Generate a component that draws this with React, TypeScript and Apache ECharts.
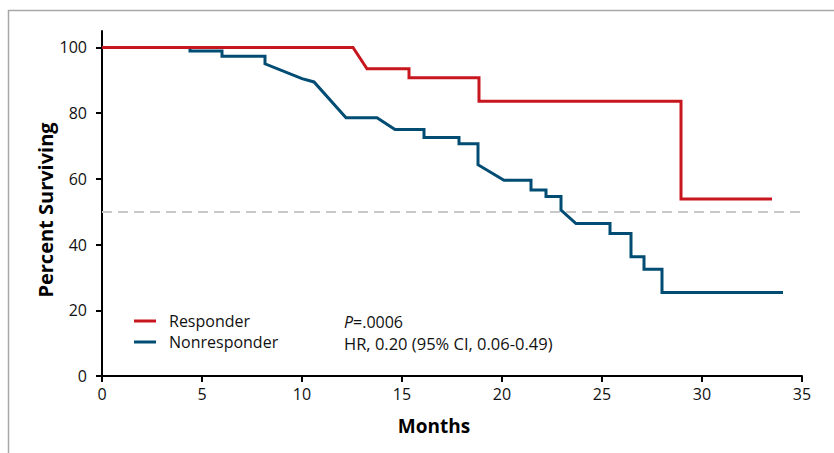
import React, { useEffect, useRef } from "react";
import * as echarts from "echarts";

const responderMonths = [0, 12.55, 13.25, 15.35, 15.35, 18.85, 18.85, 28.95, 28.95, 33.5];
const responderPct = [100, 100, 93.5, 93.5, 90.8, 90.8, 83.6, 83.6, 53.9, 53.9];

const nonresponderMonths = [
  0, 4.4, 4.4, 6.0, 6.0, 8.15, 8.15, 10.0, 10.6, 12.2, 13.75, 14.65, 16.1, 16.1, 17.85, 17.85,
  18.8, 18.8, 20.1, 21.45, 21.45, 22.2, 22.2, 22.95, 22.95, 23.7, 25.4, 25.4, 26.45, 26.45,
  27.1, 27.1, 28.0, 28.0, 34.05,
];
const nonresponderPct = [
  100, 100, 98.9, 98.9, 97.3, 97.3, 95.0, 90.5, 89.5, 78.6, 78.6, 75.0, 75.0, 72.6, 72.6, 70.7,
  70.7, 64.3, 59.6, 59.6, 56.6, 56.6, 54.6, 54.6, 50.5, 46.4, 46.4, 43.4, 43.4, 36.3, 36.3,
  32.5, 32.5, 25.4, 25.4,
];

const seriesNames = ["Responder", "Nonresponder"];
const yTicks = [0, 20, 40, 60, 80, 100];
const medianLine = 50;
const pText = "=.0006";
const hrText = "HR, 0.20 (95% CI, 0.06-0.49)";

const RED = "#c8161e";
const BLUE = "#004c73";
const FONT = "Open Sans";

export default function App() {
  const ref = useRef<HTMLDivElement>(null);
  useEffect(() => {
    document.body.style.margin = "0";
    const chart = echarts.init(ref.current!, null, { renderer: "svg" });
    const resp = responderMonths.map((m, i) => [m, responderPct[i]]);
    const nonr = nonresponderMonths.map((m, i) => [m, nonresponderPct[i]]);
    chart.setOption({
      animation: false,
      backgroundColor: "#ffffff",
      grid: { left: 102, right: 32, top: 31, bottom: 77, containLabel: false },
      xAxis: {
        type: "value",
        min: 0,
        max: 35,
        interval: 5,
        splitLine: { show: false },
        axisLine: { show: true, lineStyle: { color: "#000", width: 2 } },
        axisTick: { show: true, length: 6, lineStyle: { color: "#000", width: 2 } },
        axisLabel: { fontFamily: FONT, fontSize: 16, color: "#111", margin: 10 },
      },
      yAxis: {
        type: "value",
        min: 0,
        max: 105,
        splitLine: { show: false },
        axisLine: { show: true, lineStyle: { color: "#000", width: 2 } },
        axisTick: { show: true, length: 6, customValues: yTicks, lineStyle: { color: "#000", width: 2 } },
        axisLabel: { customValues: yTicks, fontFamily: FONT, fontSize: 16, color: "#111", margin: 15 },
      },
      legend: {
        orient: "vertical",
        left: 134,
        top: 313,
        padding: 0,
        itemWidth: 22,
        itemHeight: 3,
        itemGap: 5,
        icon: "rect",
        data: [seriesNames[0], seriesNames[1]],
        textStyle: { fontFamily: FONT, fontSize: 16, color: "#111", lineHeight: 16, padding: [0, 0, 0, 8] },
      },
      series: [
        {
          name: seriesNames[1],
          type: "line",
          data: nonr,
          showSymbol: false,
          color: BLUE,
          lineStyle: { color: BLUE, width: 3, join: "miter" },
          z: 2,
          markLine: {
            silent: true,
            symbol: "none",
            label: { show: false },
            lineStyle: { color: "#c8c8c8", width: 2, type: [10, 6] },
            data: [{ yAxis: medianLine }],
          },
        },
        {
          name: seriesNames[0],
          type: "line",
          data: resp,
          showSymbol: false,
          color: RED,
          lineStyle: { color: RED, width: 3, join: "miter" },
          z: 3,
        },
      ],
      graphic: [
        {
          type: "rect",
          shape: { x: 8.5, y: 10.5, width: 900, height: 600 },
          style: { fill: "none", stroke: "#a8a8a8", lineWidth: 1.5 },
          silent: true,
        },
        {
          type: "text",
          x: 344,
          y: 322,
          style: {
            text: "{i|P}" + pText,
            fontFamily: FONT,
            fontSize: 16,
            fill: "#111",
            verticalAlign: "middle",
            rich: { i: { fontStyle: "italic", fontFamily: FONT, fontSize: 16, fill: "#111" } },
          },
        },
        {
          type: "text",
          x: 344,
          y: 343,
          style: { text: hrText, fontFamily: FONT, fontSize: 16.5, fill: "#111", verticalAlign: "middle" },
        },
        {
          type: "text",
          x: 434,
          y: 426,
          style: {
            text: "Months",
            fontFamily: FONT,
            fontSize: 19,
            fontWeight: "bold",
            fill: "#000",
            align: "center",
            verticalAlign: "middle",
          },
        },
        {
          type: "text",
          x: 45,
          y: 210,
          rotation: Math.PI / 2,
          style: {
            text: "Percent Surviving",
            fontFamily: FONT,
            fontSize: 20,
            fontWeight: "bold",
            fill: "#000",
            align: "center",
            verticalAlign: "middle",
          },
        },
      ],
    });
    return () => chart.dispose();
  }, []);
  return <div ref={ref} style={{ width: 834, height: 453 }} />;
}
